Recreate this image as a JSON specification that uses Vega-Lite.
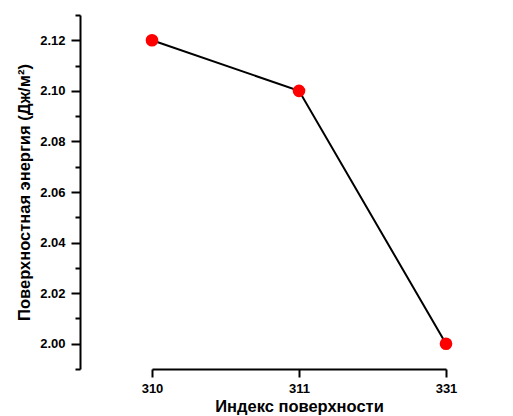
{
  "$schema": "https://vega.github.io/schema/vega-lite/v6.json",
  "autosize": "none",
  "width": 433,
  "height": 354,
  "padding": {"left": 80, "top": 15, "right": 0, "bottom": 47},
  "background": "white",
  "config": {
    "view": {"stroke": null},
    "font": "Liberation Sans"
  },
  "data": {
    "values": [
      {"index": "310", "energy": 2.12},
      {"index": "311", "energy": 2.10},
      {"index": "331", "energy": 2.00}
    ]
  },
  "encoding": {
    "x": {
      "field": "index",
      "type": "ordinal",
      "sort": null,
      "scale": {"type": "point", "padding": 0, "range": [72, 366]},
      "axis": {
        "title": "Индекс поверхности",
        "labelAngle": 0,
        "domainColor": "black",
        "domainWidth": 2,
        "tickColor": "black",
        "tickWidth": 2,
        "tickSize": 8,
        "labelFont": "Liberation Sans",
        "labelFontWeight": "bold",
        "labelFontSize": 13,
        "labelColor": "black",
        "labelPadding": 5,
        "titleFont": "Liberation Sans",
        "titleFontWeight": "bold",
        "titleFontSize": 16.5,
        "titleColor": "black",
        "titlePadding": 3
      }
    },
    "y": {
      "field": "energy",
      "type": "quantitative",
      "scale": {"domain": [1.99, 2.13], "nice": false, "zero": false},
      "axis": {
        "title": "Поверхностная энергия (Дж/м²)",
        "values": [1.99, 2.00, 2.01, 2.02, 2.03, 2.04, 2.05, 2.06, 2.07, 2.08, 2.09, 2.10, 2.11, 2.12, 2.13],
        "labelExpr": "round(datum.value*100) % 2 == 0 ? format(datum.value, '.2f') : ''",
        "tickSize": {"condition": {"test": "round(datum.value*100) % 2 == 0", "value": 9}, "value": 5},
        "grid": false,
        "domainColor": "black",
        "domainWidth": 2,
        "tickColor": "black",
        "tickWidth": 2,
        "labelFont": "Liberation Sans",
        "labelFontWeight": "bold",
        "labelFontSize": 13,
        "labelColor": "black",
        "labelPadding": 6,
        "titleFont": "Liberation Sans",
        "titleFontWeight": "bold",
        "titleFontSize": 16.5,
        "titleColor": "black",
        "titlePadding": 7
      }
    }
  },
  "layer": [
    {"mark": {"type": "line", "color": "black", "strokeWidth": 2}},
    {"mark": {"type": "circle", "color": "#ff0000", "opacity": 1, "size": 160}}
  ]
}
